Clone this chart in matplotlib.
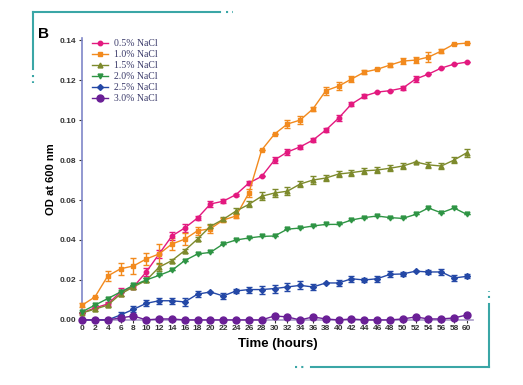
import matplotlib
matplotlib.use("Agg")
import matplotlib.pyplot as plt
from matplotlib.lines import Line2D
import numpy as np

# sampling times (hours)
hours = list(range(0, 61, 2))

# OD600 means, one list per NaCl level
od_05 = [0.0035, 0.006, 0.008, 0.014, 0.0165, 0.024, 0.033, 0.042, 0.046, 0.051, 0.058,
         0.0594, 0.0627, 0.0685, 0.0718, 0.080, 0.084, 0.0866, 0.090, 0.095, 0.101,
         0.108, 0.112, 0.114, 0.1147, 0.116, 0.1205, 0.123, 0.126, 0.128, 0.129]
od_10 = [0.0074, 0.0115, 0.022, 0.0256, 0.027, 0.0305, 0.033, 0.038, 0.0404, 0.0446, 0.0456,
         0.050, 0.052, 0.0635, 0.085, 0.093, 0.098, 0.100, 0.1056, 0.1147, 0.117,
         0.1205, 0.124, 0.1254, 0.1275, 0.1295, 0.130, 0.1315, 0.1345, 0.138, 0.1385]
od_15 = [0.0035, 0.0054, 0.0074, 0.013, 0.0165, 0.0198, 0.0264, 0.0297, 0.0347, 0.0405, 0.0468,
         0.0503, 0.0545, 0.0578, 0.0619, 0.0635, 0.0644, 0.068, 0.070, 0.071, 0.073,
         0.0737, 0.0746, 0.075, 0.0759, 0.077, 0.079, 0.0776, 0.077, 0.080, 0.0837]
od_20 = [0.0041, 0.0074, 0.0107, 0.014, 0.0173, 0.020, 0.0223, 0.0248, 0.0297, 0.033, 0.0338,
         0.038, 0.040, 0.041, 0.0418, 0.042, 0.0454, 0.046, 0.047, 0.0478, 0.0478,
         0.050, 0.0512, 0.052, 0.0512, 0.0508, 0.0528, 0.056, 0.0536, 0.056, 0.0528]
od_25 = [0.0, 0.0, 0.0, 0.0025, 0.0053, 0.0083, 0.0096, 0.0096, 0.009, 0.0129, 0.014,
         0.012, 0.0145, 0.0152, 0.0152, 0.0157, 0.0165, 0.0173, 0.0165, 0.0185, 0.0185,
         0.0206, 0.020, 0.0206, 0.0228, 0.023, 0.0244, 0.024, 0.024, 0.021, 0.0218]
od_30 = [0.0, 0.0, 0.0, 0.001, 0.002, 0.0, 0.0005, 0.0005, 0.0, 0.0, 0.0,
         0.0, 0.0, 0.0, 0.0, 0.002, 0.0015, 0.0, 0.0015, 0.0005, 0.0,
         0.0005, 0.0, 0.0, 0.0, 0.0005, 0.0015, 0.0005, 0.0005, 0.001, 0.0025]

# error bar half-heights
err_05 = [0, 0, 0.001, 0.002, 0.001, 0.002, 0.002, 0.002, 0.002, 0.001, 0.0015,
          0.001, 0.0005, 0.001, 0, 0.0015, 0.0015, 0.001, 0.001, 0.001, 0.0015,
          0.001, 0.0012, 0, 0, 0.001, 0.0015, 0, 0, 0, 0]
err_10 = [0.001, 0, 0.0025, 0.003, 0.004, 0.003, 0.005, 0.003, 0.003, 0.002, 0.002,
          0.001, 0.001, 0.002, 0, 0, 0.002, 0.002, 0.001, 0.002, 0.002,
          0.0015, 0.001, 0, 0.001, 0.0015, 0.0015, 0.0025, 0.001, 0, 0]
err_15 = [0, 0.001, 0.001, 0.001, 0.001, 0.001, 0.002, 0.001, 0.001, 0.001, 0.001,
          0.001, 0.0015, 0.0015, 0.002, 0.002, 0.002, 0.0015, 0.002, 0.0015, 0.0015,
          0.0015, 0.0015, 0.0015, 0.0015, 0.0015, 0, 0.0015, 0.0015, 0.0015, 0.002]
err_20 = [0, 0, 0, 0, 0, 0.001, 0, 0, 0, 0, 0,
          0, 0, 0, 0, 0, 0, 0, 0, 0, 0,
          0, 0, 0, 0, 0, 0, 0, 0, 0, 0]
err_25 = [0, 0, 0, 0.0015, 0.0015, 0.0015, 0.0015, 0.0015, 0.002, 0.0015, 0,
          0.0015, 0.001, 0.0015, 0.002, 0.002, 0.002, 0.002, 0.0015, 0, 0.0015,
          0.0015, 0.001, 0.0015, 0.0015, 0.001, 0, 0.0012, 0.0015, 0.0015, 0.001]

labels = ["0.5% NaCl", "1.0% NaCl", "1.5% NaCl", "2.0% NaCl", "2.5% NaCl", "3.0% NaCl"]
series = [od_05, od_10, od_15, od_20, od_25, od_30]
errors = [err_05, err_10, err_15, err_20, err_25, [0] * len(hours)]
colors = ["#e3197f", "#f28a1e", "#7d8a2c", "#2e9444", "#2448a6", "#6a1f96"]
markers = ["o", "s", "^", "v", "D", "o"]
msizes = [3.2, 3.5, 3.5, 3.5, 3.0, 5.0]

fig = plt.figure(figsize=(5.23, 3.85), dpi=100)
ax = fig.add_axes([0.157, 0.169, 0.748, 0.732])

handles = []
for y, e, lab, c, m, ms in zip(series, errors, labels, colors, markers, msizes):
    ax.errorbar(hours, y, yerr=e, color=c, marker=m, markersize=ms, linewidth=1.0,
                elinewidth=1.0, capsize=2, capthick=1.0, clip_on=False, zorder=3)
    handles.append(Line2D([], [], color=c, marker=m, markersize=ms, linewidth=1.0,
                          label=lab))

ax.set_xlim(0, 61)
ax.set_ylim(0, 0.141)
ax.set_xticks(hours)
ax.set_yticks(np.arange(0, 0.141, 0.02))
ax.yaxis.set_major_formatter(matplotlib.ticker.FormatStrFormatter("%.2f"))
for lab in ax.get_xticklabels() + ax.get_yticklabels():
    lab.set_fontweight("bold")
    lab.set_fontfamily("Liberation Sans")
ax.tick_params(axis="both", labelsize=6, length=2.5, width=0.8, pad=1.5,
               colors="#333333")
ax.spines["top"].set_visible(False)
ax.spines["right"].set_visible(False)
ax.spines["left"].set_color("#7f86c8")
ax.spines["bottom"].set_color("#a99cc8")
ax.spines["left"].set_linewidth(1.2)
ax.spines["bottom"].set_linewidth(1.2)

ax.set_xlabel("Time (hours)", fontsize=9.5, fontweight="bold", family="Liberation Sans",
              labelpad=4)
ax.set_ylabel("OD at 600 nm", fontsize=8, fontweight="bold", family="Liberation Sans",
              labelpad=3)

leg = ax.legend(handles=handles, loc="upper left", bbox_to_anchor=(0.015, 1.01),
                frameon=False, prop={"family": "Liberation Serif", "size": 7},
                handlelength=1.7, handletextpad=0.6, labelspacing=0.2,
                borderaxespad=0)
for t in leg.get_texts():
    t.set_color("#3a3a6a")

# panel letter and teal frame decorations
fig.text(0.072, 0.9, "B", fontsize=11, fontweight="bold", family="Liberation Sans")
teal = "#3aa6a6"
fig.add_artist(Line2D([0.064, 0.42], [0.968, 0.968], color=teal, lw=1.5))
fig.add_artist(Line2D([0.064, 0.064], [0.968, 0.82], color=teal, lw=1.5))
fig.add_artist(Line2D([0.935, 0.935], [0.21, 0.047], color=teal, lw=1.5))
fig.add_artist(Line2D([0.595, 0.935], [0.047, 0.047], color=teal, lw=1.5))
fig.add_artist(Line2D([0.432, 0.446], [0.968, 0.968], color=teal, lw=1.5,
                      linestyle=(0, (1, 2))))
fig.add_artist(Line2D([0.064, 0.064], [0.805, 0.785], color=teal, lw=1.5,
                      linestyle=(0, (1, 2))))
fig.add_artist(Line2D([0.935, 0.935], [0.225, 0.245], color=teal, lw=1.5,
                      linestyle=(0, (1, 2))))
fig.add_artist(Line2D([0.565, 0.582], [0.047, 0.047], color=teal, lw=1.5,
                      linestyle=(0, (1, 2))))

fig.savefig("out.png", dpi=100)
